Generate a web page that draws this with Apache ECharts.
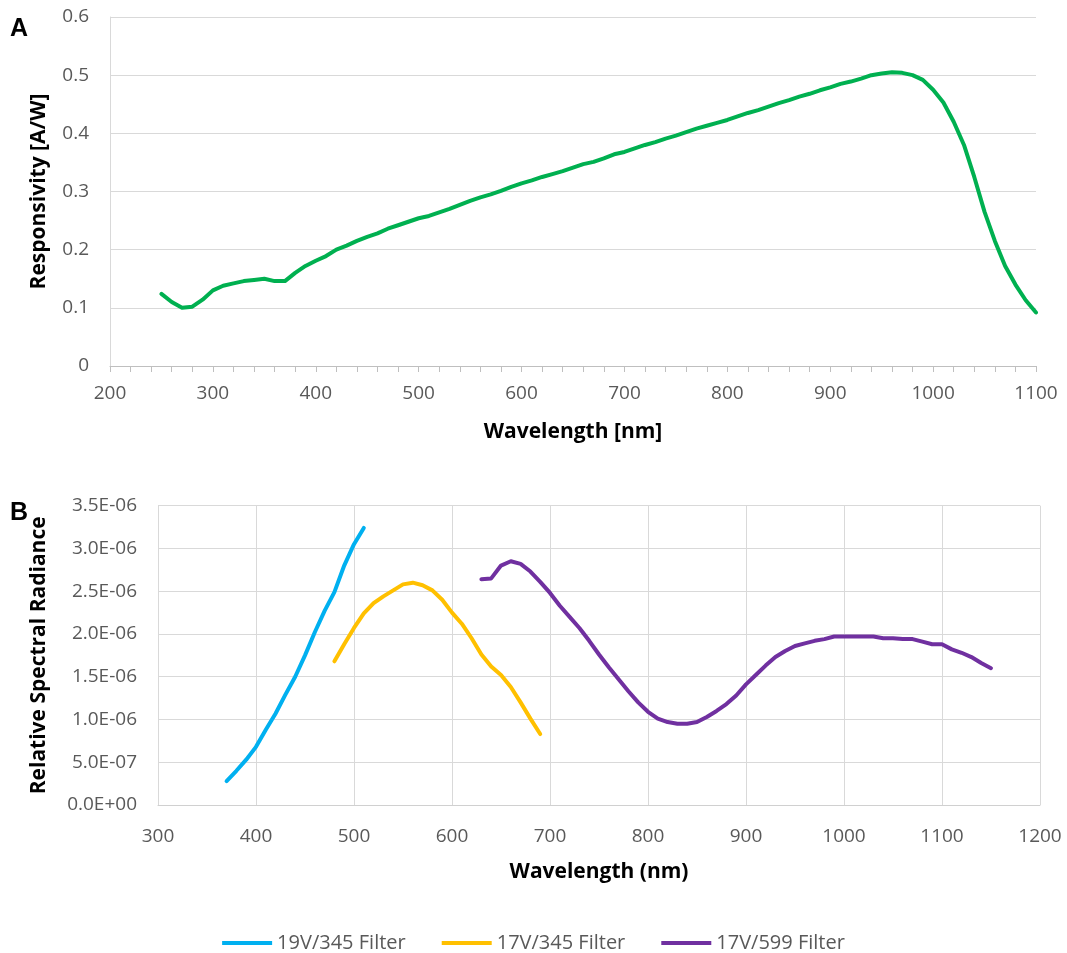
<!DOCTYPE html>
<html>
<head>
<meta charset="utf-8">
<script src="https://cdn.jsdelivr.net/npm/echarts@6/dist/echarts.min.js"></script>
<style>
html,body{margin:0;padding:0;background:#fff;}
#chart{width:1067px;height:953px;}
</style>
</head>
<body>
<div id="chart"></div>
<script>
// ---- Panel A: responsivity ----
const respWavelength = [250,260,270,280,290,300,310,320,330,340,350,360,370,380,390,400,410,420,430,440,450,460,470,480,490,500,510,520,530,540,550,560,570,580,590,600,610,620,630,640,650,660,670,680,690,700,710,720,730,740,750,760,770,780,790,800,810,820,830,840,850,860,870,880,890,900,910,920,930,940,950,960,970,980,990,1000,1010,1020,1030,1040,1050,1060,1070,1080,1090,1100];
const responsivity = [0.124,0.110,0.100,0.102,0.114,0.130,0.138,0.142,0.146,0.148,0.150,0.146,0.146,0.160,0.172,0.181,0.189,0.200,0.207,0.215,0.222,0.228,0.236,0.242,0.248,0.254,0.258,0.264,0.270,0.277,0.284,0.290,0.295,0.301,0.308,0.314,0.319,0.325,0.330,0.335,0.341,0.347,0.351,0.357,0.364,0.368,0.374,0.380,0.385,0.391,0.396,0.402,0.408,0.413,0.418,0.423,0.429,0.435,0.440,0.446,0.452,0.457,0.463,0.468,0.474,0.479,0.485,0.489,0.494,0.500,0.503,0.505,0.504,0.500,0.492,0.475,0.453,0.420,0.380,0.325,0.265,0.215,0.172,0.140,0.113,0.092];

// ---- Panel B: relative spectral radiance ----
const blueWavelength = [370,380,390,400,410,420,430,440,450,460,470,480,490,500,510];
const blueRadiance = [0.28e-6,0.40e-6,0.53e-6,0.68e-6,0.88e-6,1.07e-6,1.29e-6,1.50e-6,1.75e-6,2.02e-6,2.27e-6,2.49e-6,2.80e-6,3.05e-6,3.24e-6];

const yellowWavelength = [480,490,500,510,520,530,540,550,560,570,580,590,600,610,620,630,640,650,660,670,680,690];
const yellowRadiance = [1.68e-6,1.88e-6,2.07e-6,2.24e-6,2.36e-6,2.44e-6,2.51e-6,2.58e-6,2.60e-6,2.57e-6,2.51e-6,2.40e-6,2.25e-6,2.12e-6,1.95e-6,1.76e-6,1.62e-6,1.52e-6,1.38e-6,1.20e-6,1.01e-6,0.83e-6];

const purpleWavelength = [630,640,650,660,670,680,690,700,710,720,730,740,750,760,770,780,790,800,810,820,830,840,850,860,870,880,890,900,910,920,930,940,950,960,970,980,990,1000,1010,1020,1030,1040,1050,1060,1070,1080,1090,1100,1110,1120,1130,1140,1150];
const purpleRadiance = [2.64e-6,2.65e-6,2.80e-6,2.85e-6,2.82e-6,2.73e-6,2.61e-6,2.48e-6,2.33e-6,2.20e-6,2.07e-6,1.92e-6,1.76e-6,1.61e-6,1.47e-6,1.33e-6,1.20e-6,1.09e-6,1.01e-6,0.97e-6,0.95e-6,0.95e-6,0.97e-6,1.03e-6,1.10e-6,1.18e-6,1.28e-6,1.41e-6,1.52e-6,1.63e-6,1.73e-6,1.80e-6,1.86e-6,1.89e-6,1.92e-6,1.94e-6,1.97e-6,1.97e-6,1.97e-6,1.97e-6,1.97e-6,1.95e-6,1.95e-6,1.94e-6,1.94e-6,1.91e-6,1.88e-6,1.88e-6,1.82e-6,1.78e-6,1.73e-6,1.66e-6,1.60e-6];

const seriesNames = ['19V/345 Filter','17V/345 Filter','17V/599 Filter'];
const panelLetters = ['A','B'];
const axisTitles = ['Wavelength [nm]','Responsivity [A/W]','Wavelength (nm)','Relative Spectral Radiance'];

function pairs(xs, ys){ return xs.map((x,i)=>[x, ys[i]]); }
function sci(v){
  if (Math.abs(v) < 1e-15) return '0.0E+00';
  const e = Math.floor(Math.log10(Math.abs(v)) + 1e-9);
  const m = v / Math.pow(10, e);
  const ae = Math.abs(e);
  return m.toFixed(1) + 'E' + (e < 0 ? '-' : '+') + (ae < 10 ? '0' + ae : ae);
}
function plain(v){ return String(Math.round(v)); }

const FONT = '"Open Sans", "Noto Sans", sans-serif';
const tickLabel = {color:'#595959', fontFamily: FONT, fontSize: 19};
const nameStyle = {color:'#000', fontFamily: FONT, fontSize: 21, fontWeight:'bold'};
const gridLine = {lineStyle:{color:'#D9D9D9', width:1}};

const chart = echarts.init(document.getElementById('chart'), null, {renderer:'canvas'});
chart.setOption({
  backgroundColor:'#fff',
  animation:false,
  grid:[
    {left:110, right:31, top:17, height:349},
    {left:158, right:27, top:505.7, height:299.3}
  ],
  xAxis:[
    {gridIndex:0, type:'value', min:200, max:1100, interval:100,
     name: axisTitles[0], nameLocation:'middle', nameGap:56, nameTextStyle:nameStyle,
     axisLine:{show:true, lineStyle:{color:'#BFBFBF'}},
     axisTick:{show:true, length:6, lineStyle:{color:'#BFBFBF'}},
     minorTick:{show:true, splitNumber:5, length:6, lineStyle:{color:'#BFBFBF'}},
     splitLine:{show:false},
     axisLabel:Object.assign({margin:18, formatter:plain}, tickLabel)},
    {gridIndex:1, type:'value', min:300, max:1200, interval:100,
     name: axisTitles[2], nameLocation:'middle', nameGap:57, nameTextStyle:nameStyle,
     axisLine:{show:true, lineStyle:{color:'#D0D0D0'}},
     axisTick:{show:false},
     splitLine:Object.assign({show:true}, gridLine),
     axisLabel:Object.assign({margin:22, formatter:plain}, tickLabel)}
  ],
  yAxis:[
    {gridIndex:0, type:'value', min:0, max:0.6, interval:0.1,
     name: axisTitles[1], nameLocation:'middle', nameGap:60, nameTextStyle:nameStyle,
     axisLine:{show:true, lineStyle:{color:'#D9D9D9'}},
     axisTick:{show:false},
     splitLine:Object.assign({show:true}, gridLine),
     axisLabel:Object.assign({margin:21, formatter:v=> v===0 ? '0' : v.toFixed(1)}, tickLabel)},
    {gridIndex:1, type:'value', min:0, max:3.5e-6, interval:0.5e-6,
     name: axisTitles[3], nameLocation:'middle', nameGap:108, nameTextStyle:nameStyle,
     axisLine:{show:true, lineStyle:{color:'#D9D9D9'}},
     axisTick:{show:false},
     splitLine:Object.assign({show:true}, gridLine),
     axisLabel:Object.assign({margin:21, formatter:sci}, tickLabel)}
  ],
  legend:{
    data: seriesNames,
    top: 928, left:'center',
    itemWidth:50, itemHeight:4, itemGap:36,
    icon:'rect',
    textStyle:{color:'#595959', fontFamily:FONT, fontSize:20, padding:[0,0,0,0]}
  },
  graphic:[
    {type:'text', left:10, top:17, style:{text:panelLetters[0], font:'bold 25px "Liberation Sans", Arial, sans-serif', fill:'#000'}},
    {type:'text', left:10, top:501, style:{text:panelLetters[1], font:'bold 25px "Liberation Sans", Arial, sans-serif', fill:'#000'}}
  ],
  series:[
    {name:'Responsivity', type:'line', xAxisIndex:0, yAxisIndex:0, data:pairs(respWavelength, responsivity),
     showSymbol:false, symbol:'none', lineStyle:{color:'#00B050', width:4, cap:'round', join:'round'}, itemStyle:{color:'#00B050'}},
    {name:seriesNames[0], type:'line', xAxisIndex:1, yAxisIndex:1, data:pairs(blueWavelength, blueRadiance),
     showSymbol:false, symbol:'none', lineStyle:{color:'#00B0F0', width:4, cap:'round', join:'round'}, itemStyle:{color:'#00B0F0'}},
    {name:seriesNames[1], type:'line', xAxisIndex:1, yAxisIndex:1, data:pairs(yellowWavelength, yellowRadiance),
     showSymbol:false, symbol:'none', lineStyle:{color:'#FFC000', width:4, cap:'round', join:'round'}, itemStyle:{color:'#FFC000'}},
    {name:seriesNames[2], type:'line', xAxisIndex:1, yAxisIndex:1, data:pairs(purpleWavelength, purpleRadiance),
     showSymbol:false, symbol:'none', lineStyle:{color:'#7030A0', width:4, cap:'round', join:'round'}, itemStyle:{color:'#7030A0'}}
  ]
});
</script>
</body>
</html>
